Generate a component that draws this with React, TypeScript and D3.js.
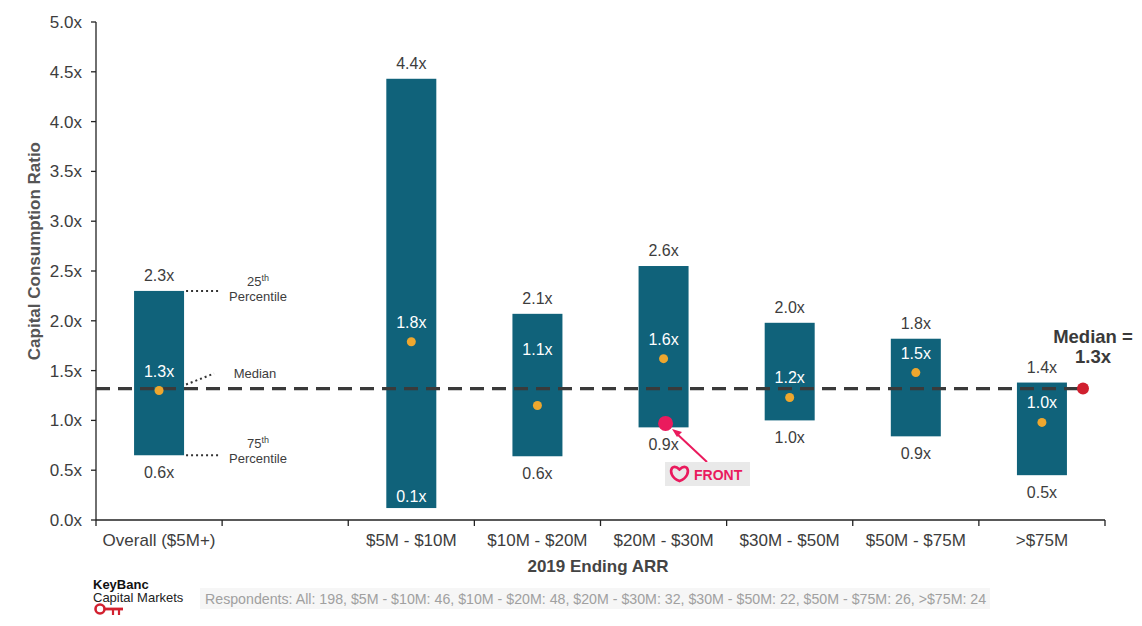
import React from "react";
import * as d3 from "d3";

const categories = ["Overall ($5M+)", "", "$5M - $10M", "$10M - $20M", "$20M - $30M", "$30M - $50M", "$50M - $75M", ">$75M"];
const topValues = [2.3, null, 4.43, 2.07, 2.55, 1.98, 1.82, 1.38];
const bottomValues = [0.65, null, 0.12, 0.64, 0.93, 1.0, 0.84, 0.45];
const medianValues = [1.3, null, 1.79, 1.15, 1.62, 1.23, 1.48, 0.98];
const topLabels = ["2.3x", "", "4.4x", "2.1x", "2.6x", "2.0x", "1.8x", "1.4x"];
const bottomLabels = ["0.6x", "", "0.1x", "0.6x", "0.9x", "1.0x", "0.9x", "0.5x"];
const medianLabels = ["1.3x", "", "1.8x", "1.1x", "1.6x", "1.2x", "1.5x", "1.0x"];
const yTicks = [0, 0.5, 1, 1.5, 2, 2.5, 3, 3.5, 4, 4.5, 5];
const overallMedian = 1.32;
const frontValue = 0.97;
const respondents = "Respondents: All: 198, $5M - $10M: 46, $10M - $20M: 48, $20M - $30M: 32, $30M - $50M: 22, $50M - $75M: 26, >$75M: 24";

const W = 1142;
const H = 626;
const FONT = "'Liberation Sans', Arial, sans-serif";
const BAR = "#10627a";
const DOT = "#eea72e";
const TXT = "#3d3d3d";

export default function App() {
  const x = d3.scaleBand<number>().domain(d3.range(categories.length)).range([96, 1105]).paddingInner(0).paddingOuter(0);
  const y = d3.scaleLinear().domain([0, 5]).range([520, 22]);
  const bw = 50;
  const medY = y(overallMedian);
  const frontX = (x(4) as number) + x.bandwidth() / 2 + 2;
  const frontY = y(frontValue);

  const boundaries = d3.range(categories.length + 1).map((i) => 96 + i * x.bandwidth());
  const ov = x(0) as number;
  const ovRight = ov + x.bandwidth() / 2 + bw / 2;

  return (
    <div style={{ position: "absolute", left: 0, top: 0 }}>
      <svg width={W} height={H} style={{ display: "block", background: "#fff" }} fontFamily={FONT}>
        {/* y axis */}
        <line x1={96} x2={96} y1={y(5)} y2={y(0)} stroke="#222" strokeWidth={1.3} />
        {yTicks.map((t) => (
          <g key={t}>
            <line x1={91} x2={96} y1={y(t)} y2={y(t)} stroke="#222" strokeWidth={1.3} />
            <text x={82} y={y(t)} dy="0.35em" textAnchor="end" fontSize={17} fill={TXT}>
              {t.toFixed(1)}x
            </text>
          </g>
        ))}
        <text transform={`translate(40,${y(2.7)}) rotate(-90)`} textAnchor="middle" fontSize={17} fontWeight="bold" fill="#555">
          Capital Consumption Ratio
        </text>

        {/* x axis */}
        <line x1={96} x2={1105} y1={y(0)} y2={y(0)} stroke="#222" strokeWidth={1.3} />
        {boundaries.map((b, i) => (
          <line key={i} x1={b} x2={b} y1={y(0)} y2={y(0) + 6} stroke="#222" strokeWidth={1.3} />
        ))}
        {categories.map((c, i) => (
          <text key={i} x={(x(i) as number) + x.bandwidth() / 2} y={546} textAnchor="middle" fontSize={17} fill={TXT}>
            {c}
          </text>
        ))}
        <text x={598} y={572} textAnchor="middle" fontSize={17} fontWeight="bold" fill="#444">
          2019 Ending ARR
        </text>

        {/* bars */}
        {categories.map((c, i) => {
          const t = topValues[i];
          const b = bottomValues[i];
          const m = medianValues[i];
          if (t == null || b == null || m == null) return null;
          const cx = (x(i) as number) + x.bandwidth() / 2;
          const inside = y(b) - y(0) > -20;
          let labelY = y(m) - 14;
          if (Math.abs(labelY - 5 - medY) < 10) labelY = medY - 34;
          return (
            <g key={i}>
              <rect x={cx - bw / 2} y={y(t)} width={bw} height={y(b) - y(t)} fill={BAR} />
              <text x={cx} y={y(t) - 10} textAnchor="middle" fontSize={16} fill={TXT}>
                {topLabels[i]}
              </text>
              <text x={cx} y={inside ? y(b) - 6 : y(b) + 23} textAnchor="middle" fontSize={16} fill={inside ? "#fff" : TXT}>
                {bottomLabels[i]}
              </text>
              <text x={cx} y={labelY} textAnchor="middle" fontSize={16} fill="#fff">
                {medianLabels[i]}
              </text>
            </g>
          );
        })}

        {/* median dashed line */}
        <line x1={96} x2={1078} y1={medY} y2={medY} stroke="#3a3a3a" strokeWidth={3.2} strokeDasharray="14 8" />
        {categories.map((c, i) => {
          const m = medianValues[i];
          if (m == null) return null;
          const cx = (x(i) as number) + x.bandwidth() / 2;
          return <circle key={i} cx={cx} cy={y(m)} r={4.5} fill={DOT} />;
        })}
        <circle cx={1083} cy={medY} r={6} fill="#d0202f" />
        <text x={1093} y={343} textAnchor="middle" fontSize={18.5} fontWeight="bold" fill="#3a3a3a">
          Median =
        </text>
        <text x={1093} y={363} textAnchor="middle" fontSize={18.5} fontWeight="bold" fill="#3a3a3a">
          1.3x
        </text>

        {/* percentile annotations */}
        <line x1={ovRight + 2} x2={ovRight + 36} y1={y(2.3)} y2={y(2.3)} stroke="#333" strokeWidth={2} strokeDasharray="2 3" />
        <text x={258} y={286} textAnchor="middle" fontSize={13} fill={TXT}>
          25<tspan fontSize={9} dy={-5}>th</tspan>
        </text>
        <text x={258} y={301} textAnchor="middle" fontSize={13} fill={TXT}>
          Percentile
        </text>
        <line x1={ovRight + 2} x2={ovRight + 30} y1={medY - 4} y2={medY - 15} stroke="#333" strokeWidth={2} strokeDasharray="2 3" />
        <text x={255} y={378} textAnchor="middle" fontSize={13} fill={TXT}>
          Median
        </text>
        <line x1={ovRight + 2} x2={ovRight + 36} y1={y(0.65)} y2={y(0.65)} stroke="#333" strokeWidth={2} strokeDasharray="2 3" />
        <text x={258} y={448} textAnchor="middle" fontSize={13} fill={TXT}>
          75<tspan fontSize={9} dy={-5}>th</tspan>
        </text>
        <text x={258} y={463} textAnchor="middle" fontSize={13} fill={TXT}>
          Percentile
        </text>

        {/* FRONT marker */}
        <circle cx={frontX} cy={frontY} r={7.5} fill="#ea1a5d" />
        <line x1={707} y1={462} x2={676} y2={433} stroke="#ea1a5d" strokeWidth={2} />
        <path d="M672,429 L682,432 L677,437 Z" fill="#ea1a5d" />
        <rect x={665} y={462} width={85} height={24} fill="#e9e9e9" />
        <path
          d="M672,468 C674,466 677,467 679.5,469.5 C682,467 685,466 687,468 C689,471 688,478 679.5,481 C671,478 670,471 672,468 Z"
          fill="none"
          stroke="#ea1a5d"
          strokeWidth={2.6}
        />
        <text x={694} y={480} fontSize={14} fontWeight="bold" fill="#ea1a5d">
          FRONT
        </text>

        {/* KeyBanc logo */}
        <text x={93} y={589} fontSize={13} fontWeight="bold" fill="#111">
          KeyBanc
        </text>
        <text x={93} y={602} fontSize={13} fill="#222">
          Capital Markets
        </text>
        <circle cx={100} cy={609} r={4.5} fill="none" stroke="#d2202f" strokeWidth={2.6} />
        <line x1={104} y1={609} x2={123} y2={609} stroke="#d2202f" strokeWidth={2.8} />
        <line x1={113} y1={609} x2={113} y2={615} stroke="#d2202f" strokeWidth={2.2} />
        <line x1={119} y1={609} x2={119} y2={615} stroke="#d2202f" strokeWidth={2.2} />

        {/* respondents */}
        <rect x={200} y={588} width={790} height={21} fill="#f6f6f6" />
        <text x={205} y={604} fontSize={14.2} fill="#a0a0a0">
          {respondents}
        </text>
      </svg>
    </div>
  );
}
